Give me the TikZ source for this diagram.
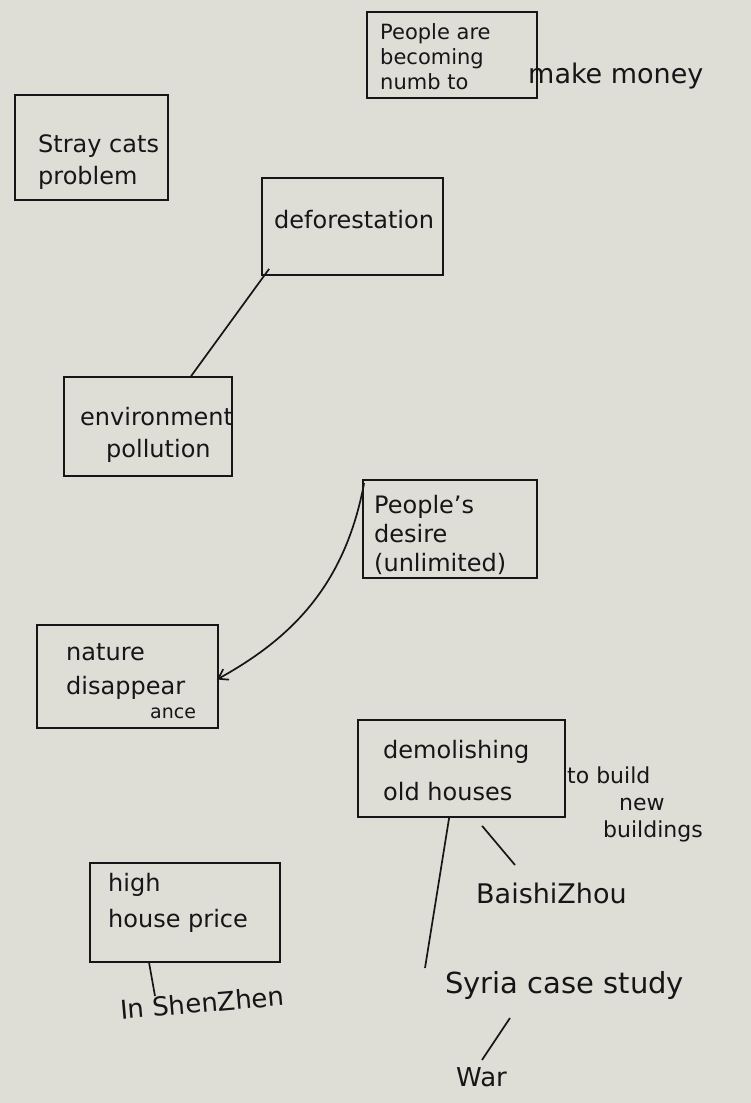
\documentclass[tikz,border=0pt]{standalone}
\usepackage{fontspec}
\setmainfont{DejaVu Sans}
\usetikzlibrary{calc,arrows.meta}
\definecolor{paper}{RGB}{222,222,215}
\definecolor{ink}{RGB}{22,22,24}
\begin{document}
\begin{tikzpicture}[x=1pt,y=-1pt,
  box/.style={draw=ink, line width=1.8pt, inner sep=0pt, rectangle},
  txt/.style={anchor=west, inner sep=0pt, text=ink, font=\fontsize{24}{32}\selectfont, align=left},
  small/.style={anchor=west, inner sep=0pt, text=ink, font=\fontsize{19}{22}\selectfont},
  link/.style={draw=ink, line width=1.7pt}
]
\fill[paper] (0,0) rectangle (751,1103);
\useasboundingbox (0,0) rectangle (751,1103);

% boxes (frames)
\node[box, minimum width=170pt, minimum height=86pt] (numb) at (452,55) {};
\node[box, minimum width=153pt, minimum height=105pt] (stray) at (91.5,147.5) {};
\node[box, minimum width=181pt, minimum height=97pt] (defo) at (352.5,226.5) {};
\node[box, minimum width=168pt, minimum height=99pt] (env) at (148,426.5) {};
\node[box, minimum width=174pt, minimum height=98pt] (desire) at (450,529) {};
\node[box, minimum width=181pt, minimum height=103pt] (nature) at (127.5,676.5) {};
\node[box, minimum width=207pt, minimum height=97pt] (demol) at (461.5,768.5) {};
\node[box, minimum width=190pt, minimum height=99pt] (high) at (185,912.5) {};

% texts in boxes
\node[txt, font=\fontsize{21}{25}\selectfont] (numbT) at (380,57) {People are\\becoming\\numb to};
\node[txt] (strayT) at (38,162) {Stray cats\\problem};
\node[txt] (defoT) at (274,220) {deforestation};
\node[txt] (envT) at (80,435) {environment\\\hspace*{26pt}pollution};
\node[txt, font=\fontsize{24}{29}\selectfont] (desireT) at (374,535) {People's\\desire\\(unlimited)};
\node[txt, font=\fontsize{24}{34}\selectfont] (natureT) at (66,672) {nature\\disappear};
\node[small] (anceT) at (150,713) {ance};
\node[txt, font=\fontsize{24}{42}\selectfont] (demolT) at (383,771) {demolishing\\old houses};
\node[txt, font=\fontsize{24}{36}\selectfont] (highT) at (108,903) {high\\house price};

% free texts
\node[txt, font=\fontsize{27}{30}\selectfont] (money) at (528,76) {make money};
\node[txt, font=\fontsize{22}{27}\selectfont] (build) at (567,804) {to build\\\hspace*{52pt}new\\\hspace*{36pt}buildings};
\node[txt, font=\fontsize{27}{30}\selectfont] (baishi) at (476,893) {BaishiZhou};
\node[txt, font=\fontsize{26}{30}\selectfont, rotate=5] (shenzhen) at (120,1010) {In ShenZhen};
\node[txt, font=\fontsize{29}{32}\selectfont] (syria) at (445,985) {Syria case study};
\node[txt, font=\fontsize{26}{30}\selectfont] (war) at (456,1077) {War};

% connectors
\draw[link] ($(defo.south west)+(8,-7)$) -- ($(env.north west)+(128,0)$);
\draw[link, -{Straight Barb[length=9pt,width=12pt]}]
  ($(desire.north west)+(2,4)$) .. controls (345,585) and (292,638) .. ($(nature.east)+(-2,3)$);
\coordinate (demolA) at ($(demol.south west)+(92,0)$);
\coordinate (syriaTop) at (425,968);
\draw[link] (demolA) -- (syriaTop);
\coordinate (baiA) at ($(demol.south west)+(125,8)$);
\coordinate (baiB) at (515,865);
\draw[link] (baiA) -- (baiB);
\draw[link] ($(high.south west)+(60,0)$) -- (155,996);
\coordinate (warA) at (510,1018);
\coordinate (warB) at (482,1060);
\draw[link] (warA) -- (warB);
\end{tikzpicture}
\end{document}
